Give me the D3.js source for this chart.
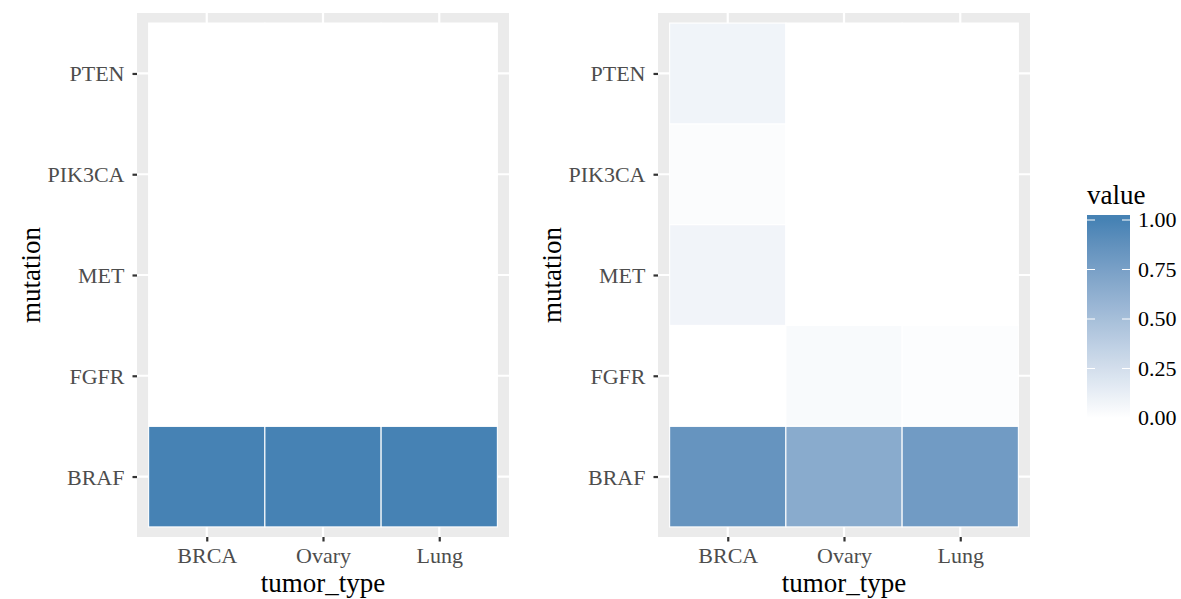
<!DOCTYPE html>
<html><head><meta charset="utf-8">
<script src="https://cdn.jsdelivr.net/npm/d3@7"></script>
<style>body{margin:0;background:#fff}svg{display:block}</style>
</head><body><svg id="c" width="1181" height="599"></svg>
<script>
const tumorTypes = ["BRCA", "Ovary", "Lung"];
const mutations = ["BRAF", "FGFR", "MET", "PIK3CA", "PTEN"]; // bottom to top
// values[mutation][tumor]
const leftValues = [
  [1, 1, 1],   // BRAF
  [0, 0, 0],   // FGFR
  [0, 0, 0],   // MET
  [0, 0, 0],   // PIK3CA
  [0, 0, 0]    // PTEN
];
const rightValues = [
  [0.85, 0.66, 0.79],  // BRAF
  [0.00, 0.04, 0.015], // FGFR
  [0.08, 0.00, 0.00],  // MET
  [0.02, 0.00, 0.00],  // PIK3CA
  [0.085, 0.00, 0.00]  // PTEN
];
const legendTicks = [0, 0.25, 0.5, 0.75, 1];
const legendTickLabels = ["0.00", "0.25", "0.50", "0.75", "1.00"];

const svg = d3.select("#c");
const color = d3.scaleLinear().domain([0, 1]).range(["#FFFFFF", "steelblue"]).interpolate(d3.interpolateLab);
const FONT = "'Liberation Serif', 'DejaVu Serif', serif";
const TICK_FS = "22px", TITLE_FS = "27px";

function panel(x0, x1, y0, y1, values) {
  const g = svg.append("g");
  const x = d3.scaleLinear().domain([0.4, tumorTypes.length + 0.6]).range([x0, x1]);
  const y = d3.scaleLinear().domain([0.4, mutations.length + 0.6]).range([y1, y0]);
  g.append("rect").attr("x", x0).attr("y", y0).attr("width", x1 - x0).attr("height", y1 - y0).attr("fill", "#EBEBEB");
  tumorTypes.forEach((t, i) => {
    g.append("line").attr("x1", x(i + 1)).attr("x2", x(i + 1)).attr("y1", y0).attr("y2", y1)
      .attr("stroke", "#fff").attr("stroke-width", 2.2);
  });
  mutations.forEach((m, j) => {
    g.append("line").attr("y1", y(j + 1)).attr("y2", y(j + 1)).attr("x1", x0).attr("x2", x1)
      .attr("stroke", "#fff").attr("stroke-width", 2.2);
  });
  const cells = [];
  mutations.forEach((m, j) => tumorTypes.forEach((t, i) => cells.push({i, j, v: values[j][i]})));
  g.selectAll("rect.tile").data(cells).enter().append("rect").attr("class", "tile")
    .attr("x", d => x(d.i + 0.5)).attr("y", d => y(d.j + 1.5))
    .attr("width", d => x(d.i + 1.5) - x(d.i + 0.5)).attr("height", d => y(d.j + 0.5) - y(d.j + 1.5))
    .attr("fill", d => color(d.v)).attr("stroke", "#fff").attr("stroke-width", 1.1);
  // x axis
  const xa = g.append("g").attr("transform", `translate(0,${y1})`)
    .call(d3.axisBottom(x).tickValues(tumorTypes.map((t, i) => i + 1)).tickFormat(d => tumorTypes[d - 1]).tickSize(4.5));
  xa.select(".domain").remove();
  xa.selectAll("line").attr("stroke", "#333").attr("stroke-width", 2.2);
  xa.selectAll("text").attr("fill", "#4D4D4D").style("font-family", FONT).style("font-size", TICK_FS)
    .attr("y", 26).attr("dy", 0);
  const ya = g.append("g").attr("transform", `translate(${x0},0)`)
    .call(d3.axisLeft(y).tickValues(mutations.map((m, j) => j + 1)).tickFormat(d => mutations[d - 1]).tickSize(4.5).tickPadding(8));
  ya.select(".domain").remove();
  ya.selectAll("line").attr("stroke", "#333").attr("stroke-width", 2.2);
  ya.selectAll("text").attr("fill", "#4D4D4D").style("font-family", FONT).style("font-size", TICK_FS).attr("dy", "0.34em");
  // titles
  g.append("text").attr("x", (x0 + x1) / 2).attr("y", 592).attr("text-anchor", "middle")
    .style("font-family", FONT).style("font-size", TITLE_FS).attr("fill", "#000").text("tumor_type");
  g.append("text").attr("transform", `translate(${x0 - 97},${(y0 + y1) / 2}) rotate(-90)`).attr("text-anchor", "middle")
    .style("font-family", FONT).style("font-size", TITLE_FS).attr("fill", "#000").text("mutation");
}

panel(137, 509, 13, 537, leftValues);
panel(658, 1030, 13, 537, rightValues);

// legend
const lx = 1087, lw = 43;
const ly = d3.scaleLinear().domain([0, 1]).range([418, 220]);
const defs = svg.append("defs");
const barTop = 215, barBot = 422;
const grad2 = defs.append("linearGradient").attr("id", "lg2").attr("gradientUnits", "userSpaceOnUse")
  .attr("x1", 0).attr("x2", 0).attr("y1", ly(0)).attr("y2", ly(1));
d3.range(0, 1.0001, 0.05).forEach(t => grad2.append("stop").attr("offset", t).attr("stop-color", color(t)));
svg.append("rect").attr("x", lx).attr("y", barTop).attr("width", lw).attr("height", barBot - barTop).attr("fill", "url(#lg2)");
legendTicks.forEach((t, k) => {
  svg.append("line").attr("x1", lx).attr("x2", lx + 8).attr("y1", ly(t)).attr("y2", ly(t)).attr("stroke", "#fff").attr("stroke-width", 1);
  svg.append("line").attr("x1", lx + lw - 8).attr("x2", lx + lw).attr("y1", ly(t)).attr("y2", ly(t)).attr("stroke", "#fff").attr("stroke-width", 1);
  svg.append("text").attr("x", lx + lw + 8).attr("y", ly(t)).attr("dy", "0.34em")
    .style("font-family", FONT).style("font-size", TICK_FS).attr("fill", "#000").text(legendTickLabels[k]);
});
svg.append("text").attr("x", lx).attr("y", 204).style("font-family", FONT).style("font-size", TITLE_FS).attr("fill", "#000").text("value");
</script></body></html>
